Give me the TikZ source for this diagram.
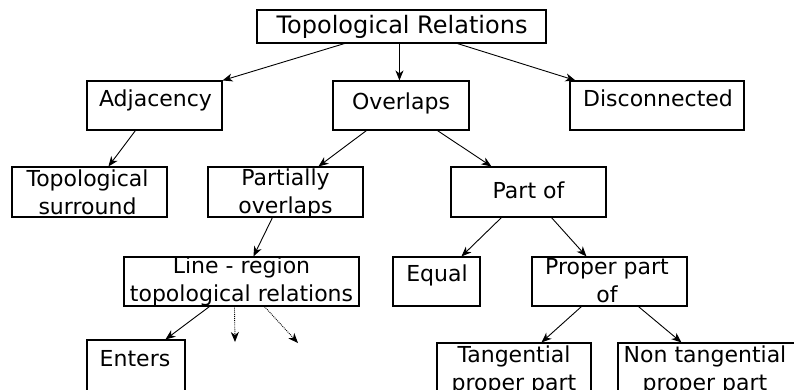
\documentclass[tikz,border=0pt]{standalone}
\usepackage{fontspec}
\setmainfont{DejaVu Sans}
\usetikzlibrary{arrows.meta,calc}
\begin{document}
\begin{tikzpicture}[x=1pt,y=-1pt,
  box/.style={draw, line width=1.1pt, inner sep=0pt, rectangle},
  lbl/.style={inner sep=0pt, anchor=base, align=center, font=\fontsize{22pt}{28pt}\selectfont},
  title/.style={lbl, font=\fontsize{24pt}{28pt}\selectfont},
  arr/.style={line width=0.9pt, -{Stealth[length=10pt,width=8pt,inset=3pt]}},
  darr/.style={arr, densely dotted}]
\useasboundingbox (0,0) rectangle (794,389);
\fill[white] (0,0) rectangle (794,389);
% boxes
\node[box, minimum width=289pt, minimum height=33pt] (top) at (401.5,26.5) {};
\node[box, minimum width=135pt, minimum height=49pt] (adj) at (154.5,105.5) {};
\node[box, minimum width=136pt, minimum height=49pt] (ovl) at (401,105.5) {};
\node[box, minimum width=174pt, minimum height=49pt] (dis) at (657,105.5) {};
\node[box, minimum width=155pt, minimum height=50pt] (ts) at (89.5,192) {};
\node[box, minimum width=155pt, minimum height=50pt] (po) at (285.5,192) {};
\node[box, minimum width=155pt, minimum height=50pt] (pof) at (528.5,192) {};
\node[box, minimum width=235pt, minimum height=49pt] (lr) at (241.5,281.5) {};
\node[box, minimum width=87pt, minimum height=49pt] (eq) at (436.5,281.5) {};
\node[box, minimum width=155pt, minimum height=49pt] (pp) at (609.5,281.5) {};
\node[box, minimum width=98pt, minimum height=60pt] (ent) at (136,370) {};
\node[box, minimum width=154pt, minimum height=57pt] (tan) at (514,371.5) {};
\node[box, minimum width=177pt, minimum height=57pt] (ntan) at (706.5,371.5) {};
% texts (anchor base = baseline of the last line)
\node[title] (ttop) at (402,33.5) {Topological Relations};
\node[lbl] (tadj) at (155.5,106) {Adjacency};
\node[lbl] (tovl) at (401,109.5) {Overlaps};
\node[lbl] (tdis) at (658,106) {Disconnected};
\node[lbl] (tts) at (87.5,214) {Topological\\surround};
\node[lbl] (tpo) at (285.5,213.5) {Partially\\overlaps};
\node[lbl] (tpof) at (528.5,198) {Part of};
\node[lbl] (tlr) at (241.5,301) {Line - region\\topological relations};
\node[lbl] (teq) at (437,281) {Equal};
\node[lbl] (tpp) at (607,302) {Proper part\\of};
\node[lbl] (tent) at (135,366) {Enters};
\node[lbl] (ttan) at (514,390) {Tangential\\proper part};
\node[lbl] (tntan) at (705,390) {Non tangential\\proper part};
% free ends
\coordinate (d1) at (235,342);
\coordinate (d2) at (298,343);
% connectors
\draw[arr] ([xshift=88pt]top.south west) -- (adj.north east);
\draw[arr] ([xshift=143pt]top.south west) -- ([xshift=67pt]ovl.north west);
\draw[arr] ([xshift=201pt]top.south west) -- ([xshift=6pt]dis.north west);
\draw[arr] ([xshift=49pt]adj.south west) -- ([xshift=97pt]ts.north west);
\draw[arr] ([xshift=34pt]ovl.south west) -- ([xshift=111pt]po.north west);
\draw[arr] ([xshift=105pt]ovl.south west) -- ([xshift=41pt]pof.north west);
\draw[arr] ([xshift=65pt]po.south west) -- ([xshift=130pt]lr.north west);
\draw[arr] ([xshift=86pt]lr.south west) -- ([xshift=79pt]ent.north west);
\draw[darr] ([xshift=111pt]lr.south west) -- (d1);
\draw[darr] ([xshift=141pt]lr.south west) -- (d2);
\draw[arr] ([xshift=51pt]pof.south west) -- ([xshift=69pt]eq.north west);
\draw[arr] ([xshift=101pt]pof.south west) -- ([xshift=55pt]pp.north west);
\draw[arr] ([xshift=50pt]pp.south west) -- ([xshift=105pt]tan.north west);
\draw[arr] ([xshift=107pt]pp.south west) -- ([xshift=64pt]ntan.north west);
\end{tikzpicture}
\end{document}
